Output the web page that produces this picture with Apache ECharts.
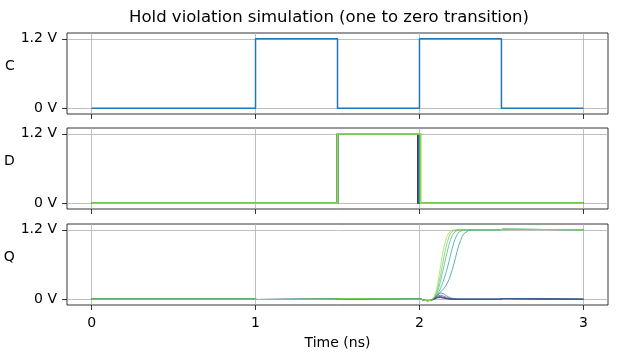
<!DOCTYPE html>
<html>
<head>
<meta charset="utf-8">
<script src="https://cdn.jsdelivr.net/npm/echarts@6/dist/echarts.min.js"></script>
<style>html,body{margin:0;padding:0;background:#fff}#c{width:619px;height:357px}</style>
</head>
<body>
<div id="c"></div>
<script>
// ---------- data ----------
const titleText = 'Hold violation simulation (one to zero transition)';
const panelNames = ['C', 'D', 'Q'];
const xTicks = [0, 1, 2, 3];
const yTicks = [0, 1.2];
const yTickLabels = ['0 V', '1.2 V'];
const xName = 'Time (ns)';

// clock
const cTime = [0, 1, 1, 1.5, 1.5, 2, 2, 2.5, 2.5, 3];
const cVolt = [0, 0, 1.2, 1.2, 0, 0, 1.2, 1.2, 0, 0];

// data input: rises at 1.5 ns, falls near 2 ns (one fall time per run)
const dRiseTime = 1.5;
const dHigh = 1.2;
const dFallTimes = [1.990, 1.992, 1.994, 1.996, 1.998, 2.000, 2.002, 2.004, 2.006, 2.008];

// output Q, shared sample times
const qTime = [0, 0.99, 1.0, 1.01, 1.02, 1.49, 1.5, 1.51, 1.52, 1.99, 2.0, 2.01, 2.03, 2.05, 2.07,
  2.08, 2.09, 2.10, 2.11, 2.12, 2.13, 2.14, 2.15, 2.16, 2.17, 2.18, 2.19, 2.20, 2.21, 2.22, 2.23, 2.24, 2.25, 2.26, 2.27, 2.28,
  2.30, 2.35, 2.49, 2.5, 2.51, 2.52, 3.0];
const q0 = [0, 0, 0.015, -0.005, 0, 0, -0.015, 0.01, 0, 0, 0.015, 0, -0.02, -0.025, -0.02,
  -0.01, 0, 0.015, 0.025, 0.03, 0.028, 0.022, 0.016, 0.011, 0.007, 0.004, 0.002, 0.001, 0, 0, 0, 0, 0, 0, 0, 0,
  0, 0, 0, -0.025, 0.01, 0, 0];
const q1 = [0, 0, 0.015, -0.005, 0, 0, -0.015, 0.01, 0, 0, 0.015, 0, -0.02, -0.025, -0.02,
  -0.01, 0.005, 0.02, 0.033, 0.04, 0.037, 0.03, 0.022, 0.015, 0.01, 0.006, 0.003, 0.002, 0.001, 0, 0, 0, 0, 0, 0, 0,
  0, 0, 0, -0.025, 0.01, 0, 0];
const q2 = [0, 0, 0.015, -0.005, 0, 0, -0.015, 0.01, 0, 0, 0.015, 0, -0.02, -0.025, -0.02,
  -0.01, 0.008, 0.025, 0.04, 0.05, 0.048, 0.04, 0.03, 0.021, 0.014, 0.009, 0.005, 0.003, 0.002, 0.001, 0, 0, 0, 0, 0, 0,
  0, 0, 0, -0.025, 0.01, 0, 0];
const q3 = [0, 0, 0.015, -0.005, 0, 0, -0.015, 0.01, 0, 0, 0.015, 0, -0.02, -0.025, -0.02,
  -0.01, 0.01, 0.035, 0.055, 0.068, 0.07, 0.062, 0.05, 0.038, 0.027, 0.018, 0.012, 0.007, 0.004, 0.002, 0.001, 0, 0, 0, 0, 0,
  0, 0, 0, -0.025, 0.01, 0, 0];
const q4 = [0, 0, 0.015, -0.005, 0, 0, -0.015, 0.01, 0, 0, 0.015, 0, -0.02, -0.025, -0.02,
  -0.01, 0.015, 0.045, 0.075, 0.098, 0.11, 0.105, 0.088, 0.068, 0.05, 0.035, 0.023, 0.014, 0.008, 0.005, 0.003, 0.001, 0, 0, 0, 0,
  0, 0, 0, -0.025, 0.01, 0, 0];
const q5 = [0, 0, 0.015, -0.005, 0, 0, -0.015, 0.01, 0, 0, 0.015, 0, -0.02, -0.025, -0.02,
  -0.005, 0.015, 0.04, 0.07, 0.10, 0.13, 0.16, 0.19, 0.23, 0.28, 0.34, 0.42, 0.51, 0.61, 0.72, 0.83, 0.93, 1.01, 1.08, 1.13, 1.16,
  1.19, 1.2, 1.2, 1.185, 1.21, 1.2, 1.2];
const q6 = [0, 0, 0.015, -0.005, 0, 0, -0.015, 0.01, 0, 0, 0.015, 0, -0.02, -0.025, -0.02,
  -0.005, 0.02, 0.05, 0.09, 0.14, 0.20, 0.27, 0.35, 0.44, 0.54, 0.65, 0.77, 0.88, 0.98, 1.06, 1.12, 1.16, 1.18, 1.19, 1.2, 1.2,
  1.2, 1.2, 1.2, 1.185, 1.21, 1.2, 1.2];
const q7 = [0, 0, 0.015, -0.005, 0, 0, -0.015, 0.01, 0, 0, 0.015, 0, -0.02, -0.025, -0.02,
  -0.005, 0.025, 0.07, 0.13, 0.22, 0.33, 0.45, 0.58, 0.71, 0.83, 0.94, 1.03, 1.10, 1.15, 1.18, 1.19, 1.2, 1.2, 1.2, 1.2, 1.2,
  1.2, 1.2, 1.2, 1.185, 1.21, 1.2, 1.2];
const q8 = [0, 0, 0.015, -0.005, 0, 0, -0.015, 0.01, 0, 0, 0.015, 0, -0.02, -0.025, -0.02,
  -0.005, 0.03, 0.09, 0.18, 0.30, 0.44, 0.59, 0.74, 0.88, 0.99, 1.08, 1.14, 1.17, 1.19, 1.2, 1.2, 1.2, 1.2, 1.2, 1.2, 1.2,
  1.2, 1.2, 1.2, 1.185, 1.21, 1.2, 1.2];
const q9 = [0, 0, 0.015, -0.005, 0, 0, -0.015, 0.01, 0, 0, 0.015, 0, -0.02, -0.025, -0.02,
  -0.005, 0.04, 0.12, 0.25, 0.42, 0.60, 0.77, 0.91, 1.02, 1.10, 1.15, 1.18, 1.19, 1.2, 1.2, 1.2, 1.2, 1.2, 1.2, 1.2, 1.2,
  1.2, 1.2, 1.2, 1.185, 1.21, 1.2, 1.2];
const qRuns = [q0, q1, q2, q3, q4, q5, q6, q7, q8, q9];

// ---------- styles ----------
const runColors = ['#440154', '#482576', '#424086', '#375b8d', '#2c728e', '#23898e', '#1fa187', '#38b977', '#5ec962', '#a0da39'];
const FONT = 'DejaVu Sans';
const gridTops = [33, 128, 224];
const gridH = 81;
const gridLeft = 67;
const gridW = 541;

const grids = gridTops.map(t => ({
  left: gridLeft, top: t, width: gridW, height: gridH,
  show: true, borderColor: '#000', borderWidth: 0.8, backgroundColor: 'transparent', containLabel: false
}));

const xAxes = gridTops.map((t, i) => ({
  type: 'value', gridIndex: i, min: -0.15, max: 3.15,
  name: i === 2 ? xName : '', nameLocation: 'middle', nameGap: 31,
  nameTextStyle: { fontFamily: FONT, fontSize: 14, color: '#000' },
  axisLine: { show: false, onZero: false },
  axisTick: { show: true, inside: false, length: 5, lineStyle: { color: '#000', width: 0.8 }, customValues: xTicks },
  axisLabel: { show: i === 2, margin: 11, fontFamily: FONT, fontSize: 14, color: '#000', customValues: xTicks,
    formatter: v => String(v) },
  splitLine: { show: true, lineStyle: { color: '#b0b0b0', width: 0.8 } }
}));

const yAxes = gridTops.map((t, i) => ({
  type: 'value', gridIndex: i, min: -0.1, max: 1.3,
  name: panelNames[i], nameLocation: 'middle', nameRotate: 0, nameGap: 52,
  nameTextStyle: { fontFamily: FONT, fontSize: 14, color: '#000', align: 'center', verticalAlign: 'bottom' },
  axisLine: { show: false, onZero: false },
  axisTick: { show: true, inside: false, length: 5, lineStyle: { color: '#000', width: 0.8 }, customValues: yTicks },
  axisLabel: { show: true, margin: 10, fontFamily: FONT, fontSize: 14, color: '#000', customValues: yTicks,
    formatter: v => yTickLabels[yTicks.indexOf(v)] },
  splitLine: { show: true, lineStyle: { color: '#b0b0b0', width: 0.8 } }
}));

const series = [];
series.push({
  type: 'line', xAxisIndex: 0, yAxisIndex: 0, symbol: 'none', animation: false,
  data: cTime.map((t, i) => [t, cVolt[i]]),
  lineStyle: { color: '#1f77b4', width: 1.5 }
});
dFallTimes.forEach((tf, k) => {
  series.push({
    type: 'line', xAxisIndex: 1, yAxisIndex: 1, symbol: 'none', animation: false,
    data: [[0, 0], [dRiseTime, 0], [dRiseTime, dHigh], [tf, dHigh], [tf, 0], [3, 0]],
    lineStyle: { color: runColors[k], width: 1.3 }
  });
});
qRuns.forEach((run, k) => {
  series.push({
    type: 'line', xAxisIndex: 2, yAxisIndex: 2, symbol: 'none', animation: false,
    data: qTime.map((t, i) => [t, run[i]]),
    lineStyle: { color: runColors[k], width: 0.7 }
  });
});

const chart = echarts.init(document.getElementById('c'), null, { renderer: 'canvas' });
chart.setOption({
  animation: false,
  backgroundColor: '#fff',
  title: {
    text: titleText, left: 329, top: 9, padding: 0, textAlign: 'center',
    textStyle: { fontFamily: FONT, fontSize: 16.5, fontWeight: 'normal', color: '#000' }
  },
  grid: grids,
  xAxis: xAxes,
  yAxis: yAxes,
  series: series
});
</script>
</body>
</html>
